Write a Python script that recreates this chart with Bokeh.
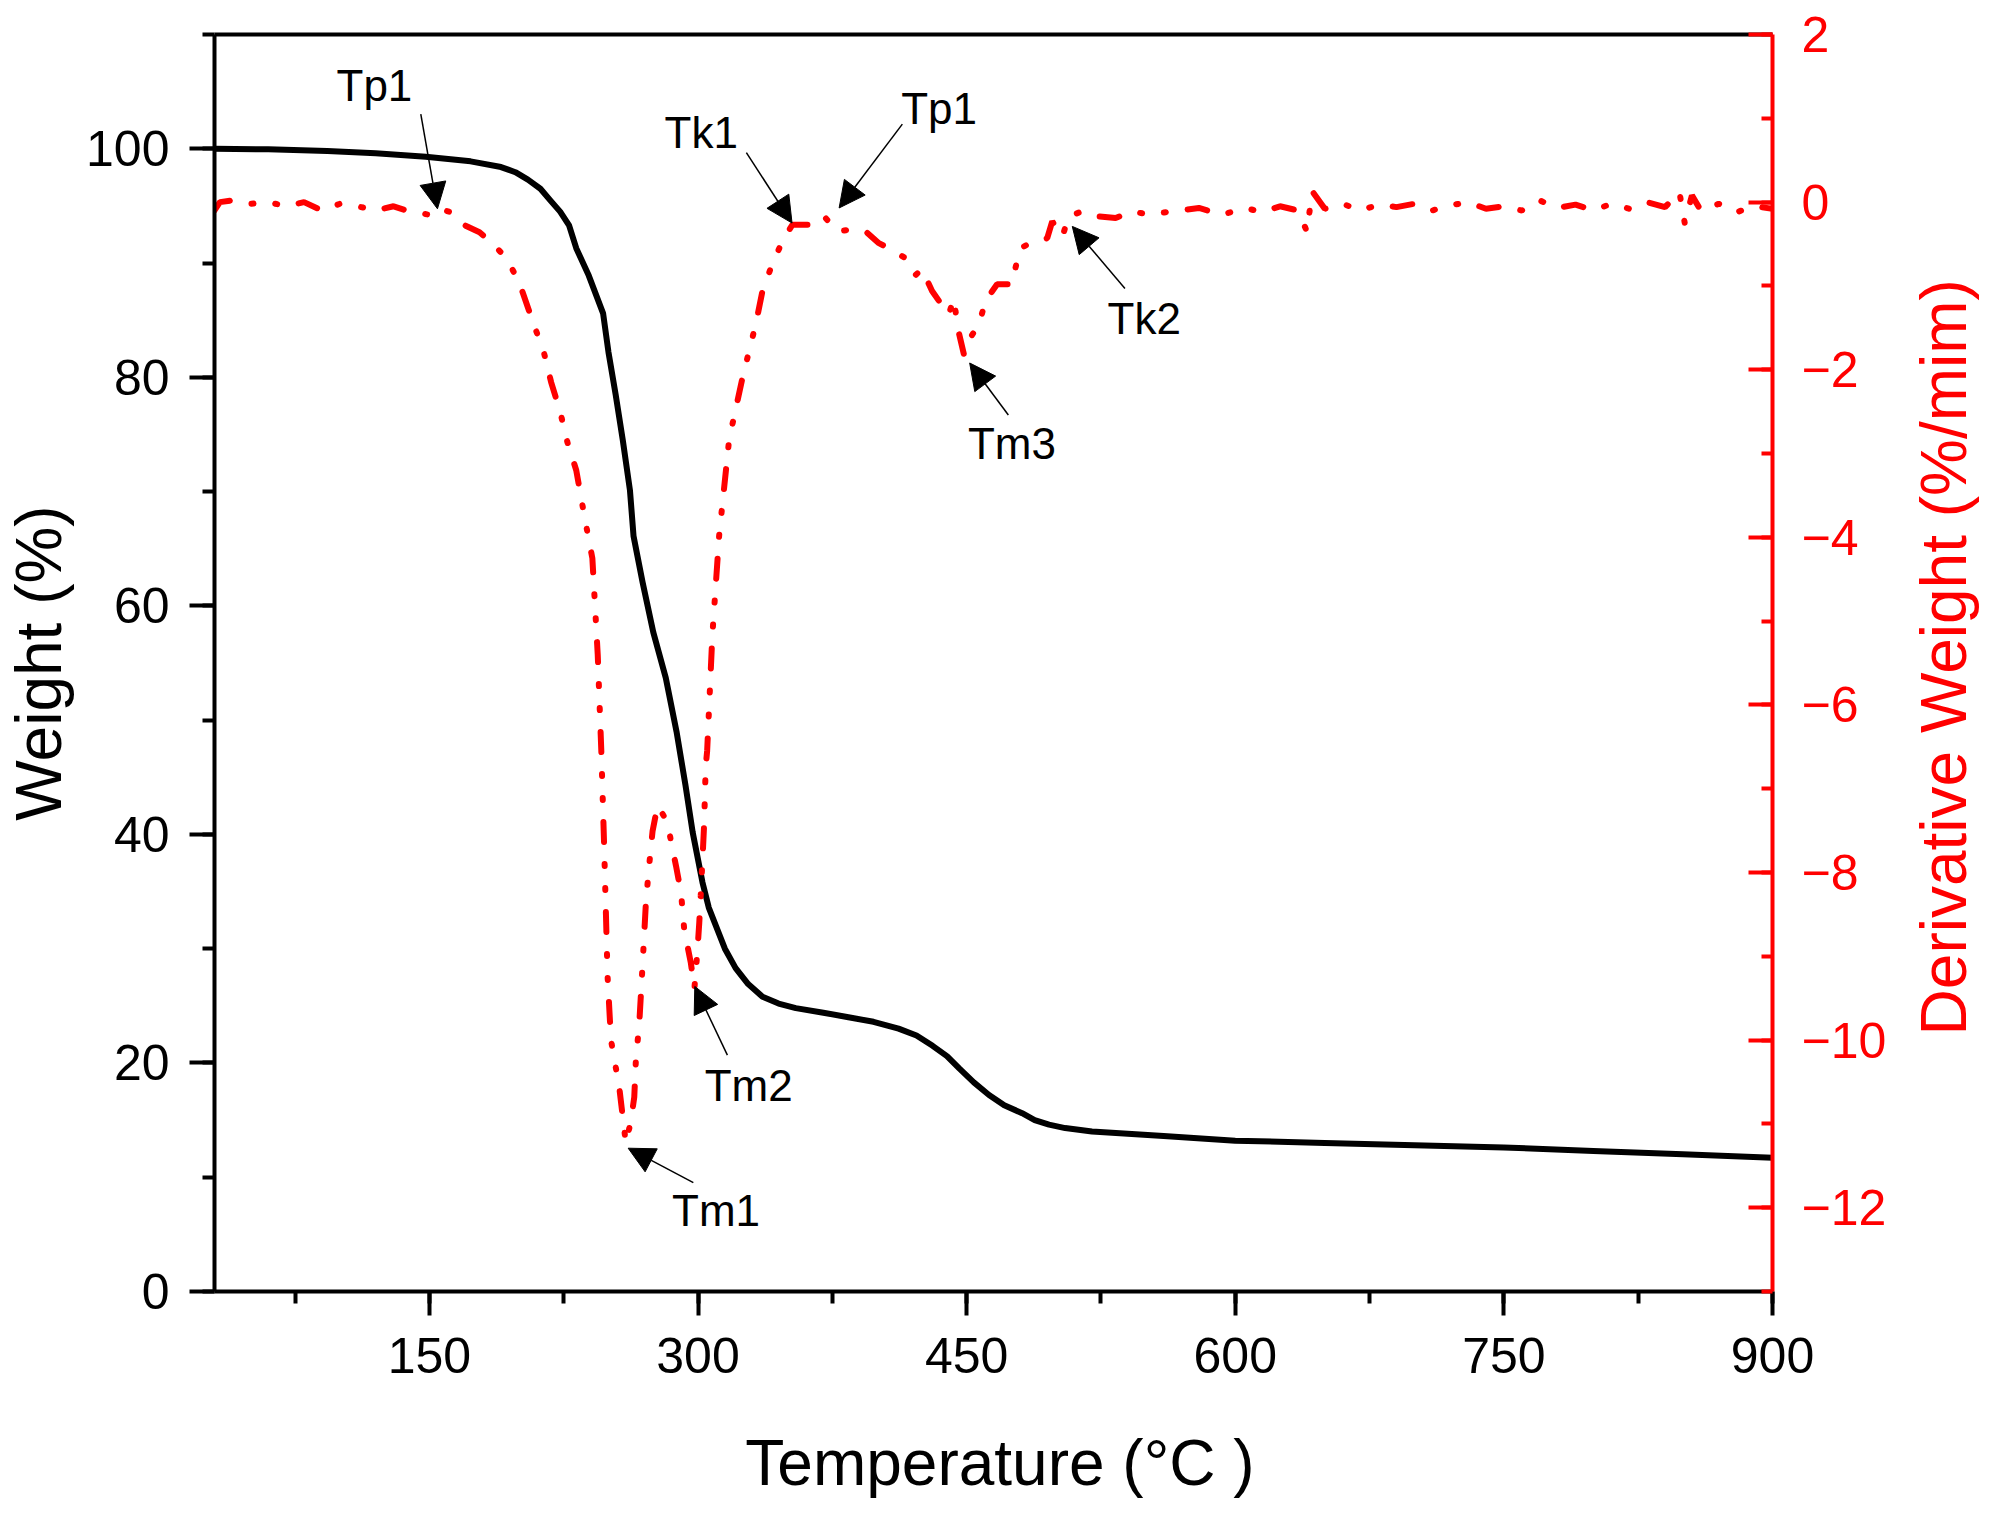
import math
from bokeh.plotting import figure
from bokeh.models import (Range1d, LinearAxis, SingleIntervalTicker, FixedTicker, Label,
                          CustomJSTickFormatter, Arrow, NormalHead, ColumnDataSource, LabelSet)
from bokeh.core.properties import value
from bokeh.embed import file_html
from bokeh.resources import INLINE

# TGA curve (weight %)
tga_temp = [30, 60, 93, 120, 148, 173, 190, 198, 205, 212, 218, 223, 228, 232, 239, 247, 250, 254,
            258, 262, 264, 269, 275, 282, 288, 293, 297, 302.5, 306, 310, 315, 321, 328, 336, 345,
            354.6, 370, 384, 398, 412, 422, 431, 439, 446, 454, 462.5, 471, 481, 488, 496, 505,
            520, 560, 600, 650, 700, 750, 800, 850, 900]
tga_weight = [100, 99.95, 99.8, 99.6, 99.3, 98.9, 98.4, 97.95, 97.3, 96.5, 95.4, 94.5, 93.3, 91.3,
              88.9, 85.6, 82.2, 78.5, 74.5, 70.1, 66.1, 62.1, 57.7, 53.7, 49.0, 44.3, 40.2, 35.8,
              33.6, 32.0, 30.0, 28.3, 26.9, 25.8, 25.2, 24.8, 24.4, 24.0, 23.6, 23.0, 22.4, 21.5,
              20.6, 19.5, 18.3, 17.2, 16.3, 15.6, 15.0, 14.6, 14.3, 14.0, 13.6, 13.2, 13.0, 12.8,
              12.6, 12.3, 12.0, 11.7]

# DTG curve (derivative weight %/min)
dtg_temp = [30, 33, 40, 50, 60, 70, 80, 90, 100, 110, 120, 130, 140, 150, 155, 162, 170, 178,
            184, 190, 195, 200, 207, 214, 218, 223, 227, 232, 237, 241, 244, 246, 247.6, 249.5,
            251.4, 256, 259.7, 262.4, 264.4, 265.3, 267.2, 269, 270.9, 272.7, 274.6, 277.4, 283,
            285, 287.7, 290.5, 292.3, 296, 298, 299.6, 300.7, 301.5, 302.5, 303.4, 304.3, 305.1,
            308, 311.8, 317.4, 324.8, 332.2, 336, 340.6, 347, 352.7, 362, 366, 370.4, 377.8,
            384.4, 393.6, 401, 406.5, 415.9, 421.5, 425, 430.7, 434.6, 440, 442.9, 445, 448.5,
            452, 456.9, 460.5, 467, 475.6, 477.2, 480, 485.6, 495, 497.8, 503.5, 507, 514.6,
            523.9, 533.2, 542.4, 551.8, 565, 579.7, 592.6, 605.6, 615, 625, 635, 640, 643, 650,
            660, 670, 680, 690, 700, 710, 720, 730, 740, 750, 760, 770, 780, 790, 800, 810, 820,
            830, 840, 848, 851, 855, 860, 870, 880, 890, 900]
dtg_value = [-0.1, 0.0, 0.02, -0.02, 0.0, -0.05, 0.0, -0.1, -0.02, -0.05, -0.1, -0.05, -0.12, -0.15,
             -0.08, -0.12, -0.28, -0.36, -0.47, -0.6, -0.75, -0.95, -1.38, -1.8, -2.15, -2.5, -2.86,
             -3.2, -3.8, -4.25, -5.4, -6.55, -7.7, -9.24, -10.0, -10.56, -11.23, -10.98, -10.68,
             -10.24, -9.8, -9.12, -8.36, -7.92, -7.51, -7.2, -7.4, -7.64, -7.92, -8.24, -8.68, -9.08,
             -9.38, -8.96, -8.6, -8.28, -7.84, -7.43, -6.73, -6.55, -5.17, -3.98, -2.83, -2.1, -1.46,
             -1.06, -0.79, -0.47, -0.27, -0.27, -0.2, -0.17, -0.35, -0.33, -0.35, -0.49, -0.55, -0.67,
             -0.87, -0.8, -1.06, -1.18, -1.34, -1.15, -1.5, -1.82, -1.62, -1.46, -1.18, -0.98, -0.98,
             -0.79, -0.55, -0.49, -0.43, -0.23, -0.41, -0.17, -0.11, -0.17, -0.19, -0.11, -0.15,
             -0.11, -0.07, -0.15, -0.07, -0.12, -0.05, -0.1, -0.35, 0.13, -0.08, -0.02, -0.1, -0.03,
             -0.06, -0.02, -0.1, -0.04, 0.0, -0.08, -0.05, -0.1, 0.02, -0.07, -0.03, -0.1, -0.02,
             -0.08, 0.0, -0.06, 0.12, -0.25, 0.08, -0.1, -0.02, -0.12, -0.05, -0.08]

# annotations (on the DTG scale)
ann_text = ["Tp1", "Tk1", "Tp1", "Tm3", "Tk2", "Tm2", "Tm1"]
ann_x = [119.3, 301.8, 434.6, 475.3, 549.2, 328.3, 310.1]
ann_y = [1.21, 0.65, 0.93, -3.07, -1.57, -10.73, -12.22]
arrow_x0 = [145.2, 327.0, 414.1, 473.3, 538.4, 316.4, 297.4]
arrow_y0 = [1.05, 0.59, 0.93, -2.54, -1.03, -10.18, -11.7]
arrow_x1 = [154.5, 352.5, 378.8, 451.7, 509.0, 298.2, 261.0]
arrow_y1 = [-0.08, -0.25, -0.07, -1.92, -0.29, -9.36, -11.29]

FONT = "Liberation Sans"

p = figure(width=1983, height=1499, output_backend="svg", toolbar_location=None,
           x_range=Range1d(30, 900), y_range=Range1d(0, 110),
           min_border_left=206, min_border_right=211, min_border_top=34, min_border_bottom=208)
p.extra_y_ranges = {"dtg": Range1d(-13, 2)}
p.xgrid.visible = False
p.ygrid.visible = False
p.outline_line_color = None
p.background_fill_color = "white"

p.line(tga_temp, tga_weight, line_color="black", line_width=6, line_join="round")
p.line(dtg_temp, dtg_value, line_color="red", line_width=6, y_range_name="dtg",
       line_dash="20 22 2 22 2 22", line_cap="round")


def style_axis(ax, color):
    ax.axis_line_color = color
    ax.axis_line_width = 4
    ax.major_tick_line_color = color
    ax.minor_tick_line_color = color
    ax.major_tick_line_width = 4
    ax.minor_tick_line_width = 4
    ax.major_label_text_color = color
    ax.major_label_text_font = FONT
    ax.major_label_text_font_size = "50px"
    ax.axis_label_text_color = color
    ax.axis_label_text_font = FONT
    ax.axis_label_text_font_size = "64px"
    ax.axis_label_text_font_style = "normal"


xax = p.xaxis[0]
xax.ticker = SingleIntervalTicker(interval=150, num_minor_ticks=2)
style_axis(xax, "black")
xax.major_tick_out = 24
xax.major_tick_in = 0
xax.minor_tick_out = 12
xax.minor_tick_in = 0
xax.major_label_standoff = 22

yax = p.yaxis[0]
yax.ticker = SingleIntervalTicker(interval=20, num_minor_ticks=2)
style_axis(yax, "black")
yax.major_tick_out = 25
yax.major_tick_in = 0
yax.minor_tick_out = 12
yax.minor_tick_in = 0
yax.major_label_standoff = 20
yax.axis_label = "Weight (%)"
yax.axis_label_standoff = 8

rax = LinearAxis(y_range_name="dtg",
                 ticker=SingleIntervalTicker(interval=2, num_minor_ticks=2),
                 formatter=CustomJSTickFormatter(code="return tick < 0 ? '\u2212' + Math.abs(tick) : '' + tick;"))
style_axis(rax, "red")
rax.major_tick_out = 0
rax.major_tick_in = 24
rax.minor_tick_out = 0
rax.minor_tick_in = 11
rax.major_label_standoff = 29
p.add_layout(rax, "right")

tax = LinearAxis(ticker=FixedTicker(ticks=[]), axis_line_width=4, axis_line_color="black",
                 major_tick_out=0, major_tick_in=0, minor_tick_out=0, minor_tick_in=0,
                 major_label_text_font_size="0px")
p.add_layout(tax, "above")

# axis titles outside the frame
p.add_layout(Label(x=468.6, y=-15.0, text="Temperature (°C )", text_font=FONT,
                   text_font_size="64px", text_color="black", text_align="center",
                   text_baseline="alphabetic"), "below")
p.add_layout(Label(x=996, y=55.5, text="Derivative Weight (%/mim)", text_font=FONT,
                   text_font_size="64px", text_color="red", text_align="center",
                   text_baseline="middle", angle=math.pi / 2), "right")

arrows = ColumnDataSource(dict(x0=arrow_x0, y0=arrow_y0, x1=arrow_x1, y1=arrow_y1))
p.add_layout(Arrow(source=arrows, x_start="x0", y_start="y0", x_end="x1", y_end="y1",
                   y_range_name="dtg", line_color="black", line_width=1.5,
                   end=NormalHead(size=26, fill_color="black", line_color="black", line_width=1)))

labels = ColumnDataSource(dict(x=ann_x, y=ann_y, t=ann_text))
p.add_layout(LabelSet(source=labels, x="x", y="y", text="t", y_range_name="dtg",
                      text_font=value(FONT), text_font_size=value("44px"), text_color="black",
                      text_align="center", text_baseline="alphabetic"))

open("out.html", "w").write(file_html(p, INLINE))
